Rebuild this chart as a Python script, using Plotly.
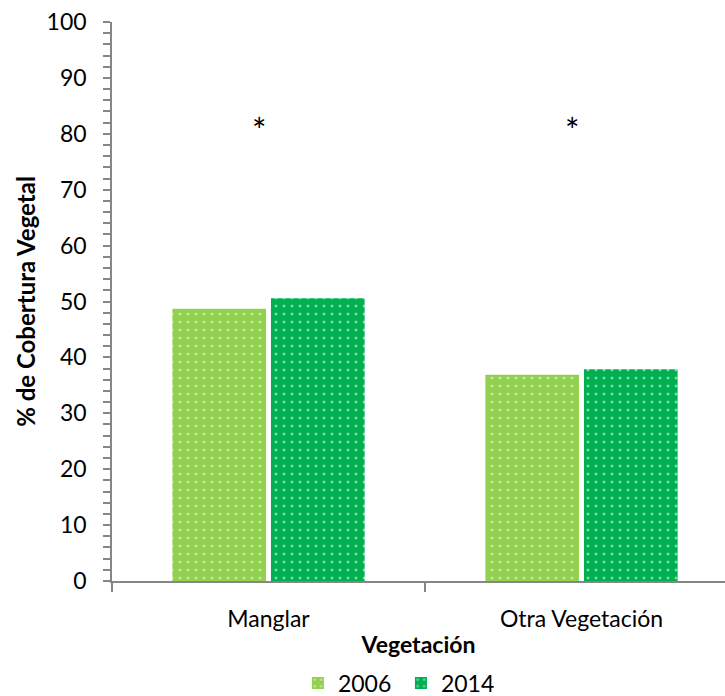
import plotly.graph_objects as go

categories = ["Manglar", "Otra Vegetación"]
years = ["2006", "2014"]
values_2006 = [48.7, 36.9]
values_2014 = [50.6, 37.9]
colors = {"2006": "#92D050", "2014": "#00B050"}
star_y = 80.8

FONT = "Lato"
FS = 23

fig = go.Figure()
for yr, vals in zip(years, [values_2006, values_2014]):
    fig.add_trace(go.Bar(
        x=categories, y=vals, name=yr,
        marker=dict(
            color=colors[yr],
            line=dict(width=0),
            pattern=dict(shape=".", fgcolor="white", bgcolor=colors[yr],
                         size=8, solidity=0.11, fillmode="overlay"),
        ),
    ))

# significance markers above each group
for i, c in enumerate(categories):
    fig.add_annotation(x=i - 0.03, y=star_y, text="*", showarrow=False,
                       font=dict(family=FONT, size=34, color="black"),
                       xref="x", yref="y")

fig.update_layout(
    width=725, height=696,
    paper_bgcolor="white", plot_bgcolor="white",
    margin=dict(l=112, r=0, t=22, b=115, autoexpand=False),
    barmode="group", bargap=0.37, bargroupgap=0.05,
    font=dict(family=FONT, size=FS, color="black"),
    showlegend=True,
    legend=dict(orientation="h", x=0.553, xanchor="center",
                y=(696 - 683) / 696, yanchor="middle", yref="container",
                xref="container",
                font=dict(size=FS), itemwidth=30, entrywidth=58),
)
fig.update_xaxes(
    type="category", range=[-0.5, 1.5 - 13 / 313],
    showline=True, linecolor="#868686", linewidth=1.5,
    ticks="outside", tickson="boundaries", ticklen=9, tickcolor="#868686", tickwidth=1.5,
    ticklabelstandoff=17,
    showgrid=False, zeroline=False,
    title=dict(text="<b>Vegetación</b>", font=dict(size=FS), standoff=6),
)
fig.update_yaxes(
    range=[0, 100], dtick=10,
    showline=True, linecolor="#868686", linewidth=1.5,
    ticks="outside", ticklen=7, tickcolor="#868686", tickwidth=1.5,
    ticklabelstandoff=12,
    minor=dict(dtick=2, ticks="outside", ticklen=7, tickcolor="#868686", tickwidth=1.5),
    showgrid=False, zeroline=False,
    title=dict(text="<b>% de Cobertura Vegetal</b>", font=dict(size=24), standoff=4),
)

fig.write_html("out.html")
